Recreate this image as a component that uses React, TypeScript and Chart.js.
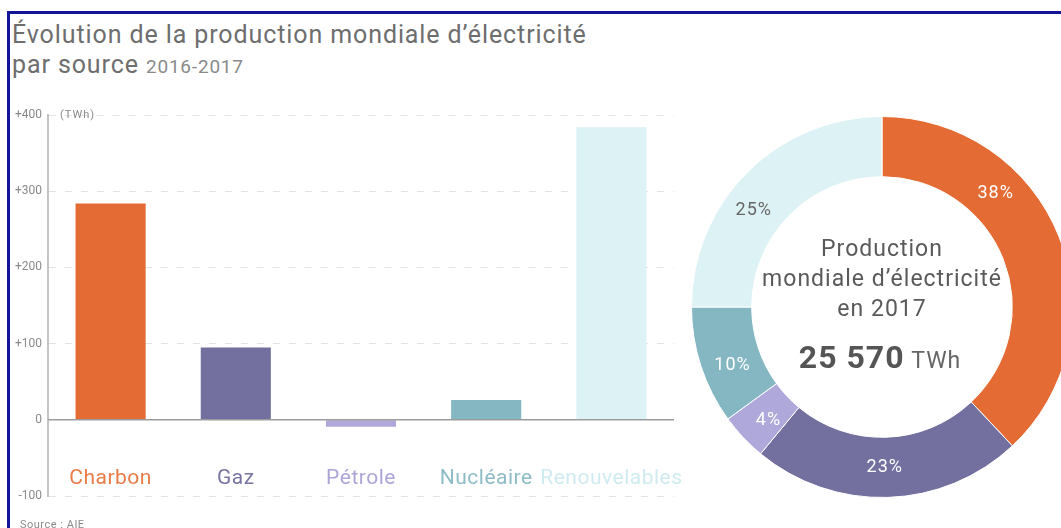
import React, { useEffect, useRef } from "react";
import { Chart, registerables } from "chart.js";

Chart.register(...registerables);

// ---- Data ----
const categories = ["Charbon", "Gaz", "Pétrole", "Nucléaire", "Renouvelables"];
const changeTWh = [284, 95, -9, 26, 384]; // variation 2016-2017 (TWh)
const shares2017 = [38, 23, 4, 10, 25]; // % of world production 2017
const yTickMin = -100;
const yTickMax = 400;
const yTickStep = 100;
const totalProduction = "25 570";

// ---- Styles ----
const barColors = ["#E46C34", "#7370A0", "#AFA8DA", "#85B7C2", "#DDF2F5"];
const catLabelColors = ["#E97B47", "#7875A3", "#ABA5D8", "#8EBCC6", "#CFEBF0"];
const shareLabelColors = ["#ffffff", "#ffffff", "#ffffff", "#ffffff", "#666666"];
const shareLabelAngleFrac = [0.33, 0.51, 0.38, 0.41, 0.41];
const FONT = "Roboto, 'Noto Sans', sans-serif";

export default function App() {
  const barRef = useRef<HTMLCanvasElement | null>(null);
  const pieRef = useRef<HTMLCanvasElement | null>(null);

  useEffect(() => {
    if (!barRef.current || !pieRef.current) return;

    const barPlugin = {
      id: "barDecor",
      afterDatasetsDraw(chart: any) {
        const { ctx, chartArea, scales } = chart;
        const y0 = scales.y.getPixelForValue(0);
        ctx.save();
        ctx.strokeStyle = "#9c9c9c";
        ctx.lineWidth = 1.5;
        ctx.beginPath();
        ctx.moveTo(chartArea.left, y0);
        ctx.lineTo(chartArea.right, y0);
        ctx.stroke();
        // category labels
        ctx.font = `21px ${FONT}`;
        (ctx as any).letterSpacing = "0.5px";
        ctx.textAlign = "center";
        ctx.textBaseline = "middle";
        const ly = y0 + (chartArea.bottom - y0) * 0.78;
        categories.forEach((c, i) => {
          ctx.fillStyle = catLabelColors[i];
          ctx.fillText(c, scales.x.getPixelForValue(i), ly);
        });
        // unit
        ctx.font = `11px ${FONT}`;
        (ctx as any).letterSpacing = "1px";
        ctx.textAlign = "left";
        ctx.fillStyle = "#8a8a8a";
        ctx.fillText("(TWh)", chartArea.left + 12, chartArea.top);
        ctx.restore();
      },
    };

    const bar = new Chart(barRef.current, {
      type: "bar",
      data: {
        labels: categories,
        datasets: [
          {
            data: changeTWh,
            backgroundColor: barColors,
            barPercentage: 0.56,
            categoryPercentage: 1,
          },
        ],
      },
      options: {
        animation: false,
        responsive: false,
        maintainAspectRatio: false,
        layout: { padding: { left: 8, top: 115, right: 16, bottom: 32 } },
        plugins: { legend: { display: false }, tooltip: { enabled: false } },
        scales: {
          x: { display: false },
          y: {
            min: yTickMin,
            max: yTickMax,
            afterFit: (s: any) => {
              s.width = 40;
            },
            ticks: {
              stepSize: yTickStep,
              padding: 6,
              color: "#8a8a8a",
              font: { family: FONT, size: 12 },
              callback: (v: any) => (Number(v) > 0 ? "+" + v : String(v)),
            },
            grid: {
              drawTicks: false,
              lineWidth: 1,
              color: (c: any) =>
                c.tick && c.tick.value === 0 ? "rgba(0,0,0,0)" : "#e3e3e3",
            },
            border: { display: true, color: "#c4c4c4", width: 2, dash: [7, 9] },
          },
        },
      },
      plugins: [barPlugin],
    } as any);

    const piePlugin = {
      id: "pieDecor",
      afterDatasetsDraw(chart: any) {
        const { ctx, chartArea } = chart;
        const meta = chart.getDatasetMeta(0);
        ctx.save();
        ctx.font = `18px ${FONT}`;
        (ctx as any).letterSpacing = "1px";
        ctx.textAlign = "center";
        ctx.textBaseline = "middle";
        meta.data.forEach((arc: any, i: number) => {
          const p = arc.getProps(["x", "y", "startAngle", "endAngle", "innerRadius", "outerRadius"], true);
          const a = p.startAngle + (p.endAngle - p.startAngle) * shareLabelAngleFrac[i];
          const r = (p.innerRadius + p.outerRadius) / 2;
          ctx.fillStyle = shareLabelColors[i];
          ctx.fillText(shares2017[i] + "%", p.x + Math.cos(a) * r, p.y + Math.sin(a) * r);
        });
        const cx = (chartArea.left + chartArea.right) / 2;
        const cy = (chartArea.top + chartArea.bottom) / 2;
        ctx.fillStyle = "#5a5a5a";
        ctx.font = `23px ${FONT}`;
        ctx.fillText("Production", cx, cy - 57);
        ctx.fillText("mondiale d’électricité", cx, cy - 27);
        ctx.fillText("en 2017", cx, cy + 3);
        ctx.font = `bold 32px ${FONT}`;
        const w1 = ctx.measureText(totalProduction).width;
        ctx.font = `23px ${FONT}`;
        const unit = " TWh";
        const w2 = ctx.measureText(unit).width;
        const start = cx - 2 - (w1 + w2) / 2;
        ctx.textAlign = "left";
        ctx.font = `bold 32px ${FONT}`;
        ctx.fillStyle = "#555555";
        ctx.fillText(totalProduction, start, cy + 53);
        ctx.font = `23px ${FONT}`;
        ctx.fillStyle = "#666666";
        ctx.fillText(unit, start + w1, cy + 55);
        ctx.restore();
      },
    };

    const pie = new Chart(pieRef.current, {
      type: "doughnut",
      data: {
        labels: categories,
        datasets: [
          {
            data: shares2017,
            backgroundColor: barColors,
            borderColor: "#ffffff",
            borderWidth: 1,
          },
        ],
      },
      options: {
        animation: false,
        responsive: false,
        maintainAspectRatio: false,
        cutout: "68.4%",
        layout: { padding: 0 },
        plugins: { legend: { display: false }, tooltip: { enabled: false } },
      },
      plugins: [piePlugin],
    } as any);

    return () => {
      bar.destroy();
      pie.destroy();
    };
  }, []);

  return (
    <div
      style={{
        position: "absolute",
        left: 0,
        top: 0,
        width: 1061,
        height: 528,
        overflow: "hidden",
        background: "#ffffff",
        fontFamily: FONT,
      }}
    >
      <div style={{ position: "absolute", left: 8, top: 11, width: 1053, height: 3, background: "#14149a" }} />
      <div style={{ position: "absolute", left: 7, top: 11, width: 3, height: 517, background: "#14149a" }} />
      <div
        style={{
          position: "absolute",
          left: 12,
          top: 20,
          fontSize: 25,
          lineHeight: "30px",
          letterSpacing: "0.9px",
          color: "#6e6e6e",
          whiteSpace: "nowrap",
        }}
      >
        <div>Évolution de la production mondiale d’électricité</div>
        <div>
          par source <span style={{ fontSize: 19, letterSpacing: "0.8px", color: "#8a8a8a" }}>2016-2017</span>
        </div>
      </div>
      <canvas
        ref={barRef}
        width={690}
        height={528}
        style={{ position: "absolute", left: 0, top: 0, width: 690, height: 528 }}
      />
      <canvas
        ref={pieRef}
        width={382}
        height={382}
        style={{ position: "absolute", left: 691, top: 116, width: 382, height: 382 }}
      />
      <div
        style={{
          position: "absolute",
          left: 20,
          top: 518,
          fontSize: 11,
          letterSpacing: "0.5px",
          color: "#8a8a8a",
        }}
      >
        Source : AIE
      </div>
    </div>
  );
}
